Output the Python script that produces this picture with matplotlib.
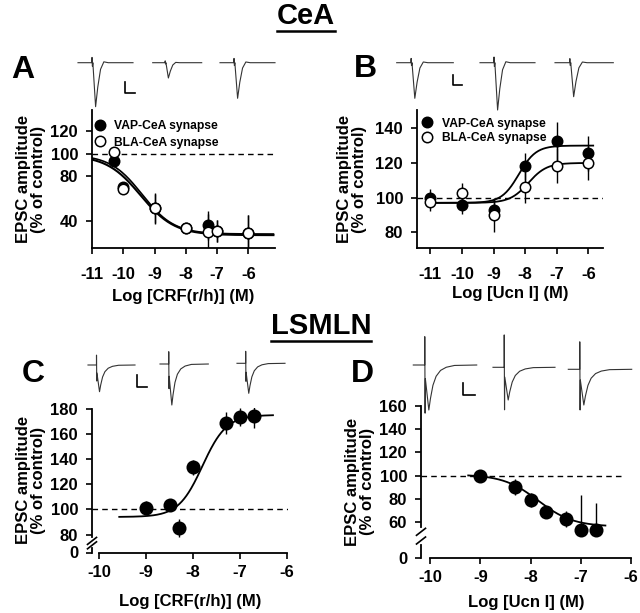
import numpy as np
import matplotlib
matplotlib.use('Agg')
import matplotlib.pyplot as plt
from matplotlib.lines import Line2D

plt.rcParams['font.family'] = ['Liberation Sans', 'DejaVu Sans']
plt.rcParams['font.weight'] = 'bold'
plt.rcParams['axes.unicode_minus'] = False

# ---- data ----
# A: CeA, CRF(r/h)
a_x = [-10.3, -10, -9, -8, -7.3, -7, -6]
a_vap = [93.5, 70.5, 51, 33, 36, 31, 29]
a_vap_err = [3, 3, 14, 3, 13, 10, 16]
a_bla = [101, 68, 51, 33, 30, 30.5, 29]
a_bla_err = [2, 3, 13, 3, 16, 10, 16]
# fits: value at low conc, value at high conc, logEC50, hill slope, x from, x to
a_fit_vap = [98.5, 27, -9.45, 0.8, -11, -5.2]
a_fit_bla = [99, 28, -9.4, 0.85, -11, -5.2]

# B: CeA, Ucn I
b_x = [-11, -10, -9, -8, -7, -6]
b_vap = [100, 95.5, 93, 118, 132.5, 125.5]
b_vap_err = [5, 5, 6, 8, 11, 10]
b_bla = [97.5, 102.5, 90, 106, 118.5, 120]
b_bla_err = [5, 6, 10, 9, 10, 10]
b_fit_vap = [97, 130, -8.2, 1.6, -11, -5.85]
b_fit_bla = [97, 120, -7.9, 1.5, -11, -5.9]

# C: LSMLN, CRF(r/h)
c_x = [-9, -8.5, -8.3, -8, -7.3, -7, -6.7]
c_y = [101.5, 103.5, 85.5, 133.5, 168.5, 173.5, 174.5]
c_err = [5, 5, 7, 6, 9, 7, 10]
c_fit = [94, 175, -7.8, 1.7, -9.57, -6.3]

# D: LSMLN, Ucn I
d_x = [-9, -8.3, -8, -7.7, -7.3, -7, -6.7]
d_y = [100, 90, 79, 69, 62.5, 53.5, 53.5]
d_err_lo = [2, 7, 6, 5, 7, 0, 0]
d_err_hi = [2, 7, 6, 5, 7, 30, 23]
d_fit = [101, 56, -7.85, 1.25, -9.24, -6.51]

legend_labels = ['VAP-CeA synapse', 'BLA-CeA synapse']

# example EPSC trace shapes (fraction of trace width, fraction of peak)
cea_t = [0, 0.25, 0.255, 0.262, 0.27, 0.32, 0.36, 0.41, 0.47, 0.55, 1.0]
cea_v = [0, 0, 0.12, -0.08, 0, -1.0, -0.55, -0.15, 0.02, 0, 0]
lsm_t = [0, 0.18, 0.181, 0.186, 0.19, 0.245, 0.27, 0.31, 0.36, 0.43, 0.52, 0.65, 1.0]
lsm_v = [0, 0, 'up', 'down', -0.3, -1.0, -0.75, -0.45, -0.25, -0.12, -0.05, -0.01, 0]

W, H = 640, 613
fig = plt.figure(figsize=(W / 100, H / 100), dpi=100)
YLAB = 'EPSC amplitude\n(% of control)'


def px_axes(left, top, right, bottom):
    return fig.add_axes([left / W, (H - bottom) / H, (right - left) / W, (bottom - top) / H])


def hill(p, n=200):
    lo, hi, ec, s, x0, x1 = p
    x = np.linspace(x0, x1, n)
    return x, hi + (lo - hi) / (1 + 10 ** ((x - ec) * s))


def style(ax, xpad):
    for s in ['top', 'right']:
        ax.spines[s].set_visible(False)
    for s in ['left', 'bottom']:
        ax.spines[s].set_linewidth(1.3)
    ax.tick_params(direction='out', length=4, width=1.2, labelsize=12)
    ax.tick_params(axis='x', pad=xpad)
    ax.tick_params(axis='y', pad=6)


def pts(ax, x, y, err, filled, ms=7.5, z=3):
    ax.errorbar(x, y, yerr=err, fmt='o', ms=ms, mfc='black' if filled else 'white',
                mec='black', mew=1.1, ecolor='black', elinewidth=1.0, capsize=0, zorder=z)


dash = (0, (4, 3))
lab = dict(fontsize=12, fontweight='bold')

# ---- A ----
ax = px_axes(92, 110, 275, 248)
style(ax, 9.5)
ax.set_xlim(-11, -5.15)
ax.set_ylim(15.5, 139)
ax.axhline(100, color='black', lw=1, ls=dash, zorder=1)
ax.plot(*hill(a_fit_vap), color='black', lw=1.5, zorder=2)
ax.plot(*hill(a_fit_bla), color='black', lw=1.2, zorder=2)
pts(ax, a_x, a_vap, a_vap_err, True)
pts(ax, a_x, a_bla, a_bla_err, False, z=4)
ax.set_xticks([-11, -10, -9, -8, -7, -6])
ax.set_yticks([40, 80, 100, 120])
ax.set_xlabel('Log [CRF(r/h)] (M)', labelpad=5, **lab)
ax.set_ylabel(YLAB, labelpad=3, linespacing=1.05, **lab)
hs = [Line2D([], [], marker='o', ls='none', ms=7.5, mfc=c, mec='black', mew=1.1) for c in ['black', 'white']]
ax.legend(hs, legend_labels, loc='upper left', bbox_to_anchor=(-0.01, 0.96), frameon=False,
          handlelength=0.8, handletextpad=0.8, labelspacing=0.35, borderaxespad=0,
          prop={'size': 8.7, 'weight': 'bold'})

# ---- B ----
ax = px_axes(417, 110, 603, 248)
style(ax, 9.5)
ax.set_xlim(-11.42, -5.54)
ax.set_ylim(71, 150.5)
ax.axhline(100, color='black', lw=1, ls=dash, zorder=1)
ax.plot(*hill(b_fit_vap), color='black', lw=1.3, zorder=2)
ax.plot(*hill(b_fit_bla), color='black', lw=1.3, zorder=2)
pts(ax, b_x, b_vap, b_vap_err, True)
pts(ax, b_x, b_bla, b_bla_err, False, z=4)
ax.set_xticks([-11, -10, -9, -8, -7, -6])
ax.set_yticks([80, 100, 120, 140])
ax.set_xlabel('Log [Ucn I] (M)', labelpad=3, **lab)
ax.set_ylabel(YLAB, labelpad=6, linespacing=1.05, **lab)
ax.legend(hs, legend_labels, loc='upper left', bbox_to_anchor=(0.0, 0.98), frameon=False,
          handlelength=0.8, handletextpad=0.9, labelspacing=0.2, borderaxespad=0,
          prop={'size': 8.7, 'weight': 'bold'})


def broken(ax, top, brk, lo, marks):
    ax.spines['left'].set_bounds(brk, top)
    ax.spines['bottom'].set_bounds(-10, -6)
    tr = ax.get_yaxis_transform()
    bb = ax.get_position()
    dx = 4.5 / (bb.width * W)
    yl = ax.get_ylim()
    dy = 3.5 * (yl[1] - yl[0]) / (bb.height * H)
    ax.plot([0, 0], [yl[0], lo], color='black', lw=1.3, transform=tr, clip_on=False)
    for m in marks:
        ax.plot([-dx, dx], [m - dy, m + dy], color='black', lw=1.2, transform=tr, clip_on=False)


# ---- C ----
ax = px_axes(92, 408, 288, 552.5)
style(ax, 5)
ax.set_xlim(-10.15, -5.98)
ax.set_ylim(65.8, 180.5)
ax.axhline(100, color='black', lw=1, ls=dash, zorder=1)
ax.plot(*hill(c_fit), color='black', lw=1.3, zorder=2)
pts(ax, c_x, c_y, c_err, True, ms=9)
ax.set_xticks([-10, -9, -8, -7, -6])
ax.set_yticks([65.8, 80, 100, 120, 140, 160, 180])
ax.set_yticklabels(['0', '80', '100', '120', '140', '160', '180'])
ax.set_xlabel('Log [CRF(r/h)] (M)', labelpad=10, **lab)
ax.set_ylabel(YLAB, labelpad=3, linespacing=1.05, **lab)
broken(ax, 180, 78.5, 69.5, [75, 71.5])

# ---- D ----
ax = px_axes(421, 405, 631, 558)
style(ax, 5)
ax.set_xlim(-10.18, -6.0)
ax.set_ylim(28.9, 161)
ax.axhline(100, color='black', lw=1, ls=dash, xmax=0.95, zorder=1)
ax.plot(*hill(d_fit), color='black', lw=1.3, zorder=2)
pts(ax, d_x, d_y, [d_err_lo, d_err_hi], True, ms=9)
ax.set_xticks([-10, -9, -8, -7, -6])
ax.set_yticks([28.9, 60, 80, 100, 120, 140, 160])
ax.set_yticklabels(['0', '60', '80', '100', '120', '140', '160'])
ax.set_xlabel('Log [Ucn I] (M)', labelpad=6.5, **lab)
ax.set_ylabel(YLAB, labelpad=3, linespacing=1.05, **lab)
broken(ax, 160, 55.7, 40, [51.5, 44])

# ---- overlay: titles, panel letters, traces, scale bars ----
ov = fig.add_axes([0, 0, 1, 1])
ov.set_xlim(0, W)
ov.set_ylim(H, 0)
ov.axis('off')
ov.patch.set_alpha(0)

titles = [('CeA', 306, 16), ('LSMLN', 321, 326)]
for txt, x, y in titles:
    ov.text(x, y, txt, fontsize=21, fontweight='bold', ha='center', va='center')
fig.canvas.draw()
for t in ov.texts:
    bb = t.get_window_extent().transformed(ov.transData.inverted())
    yb = max(bb.y0, bb.y1)
    ov.plot([bb.x0, bb.x1], [yb + 0.5, yb + 0.5], color='black', lw=1.8)

for txt, x, y in [('A', 23, 70), ('B', 365, 69), ('C', 33, 374), ('D', 362, 374)]:
    ov.text(x, y, txt, fontsize=23, fontweight='bold', ha='center', va='center')

# trace layout: x start, x end, baseline y, peak depth (pixels)
cea_traces = [(78, 133, 62.7, 44), (152.7, 201.7, 62.7, 15.3), (220, 275, 62.7, 35.6),
              (396.7, 453.3, 62.7, 35.6), (480, 535, 62.7, 47.3), (555, 613.3, 62.7, 34)]
lsm_traces = [(88, 135, 365, 26.7, 0.37, -0.6), (160, 208.3, 364, 41, 0.3, -0.6),
              (237, 285, 363.3, 30, 0.4, -0.6),
              (413.3, 476.7, 365, 45, 0.63, -1.07), (493, 555, 367.3, 32.7, 0.99, -1.3),
              (568.3, 631.7, 369.3, 35.7, 0.77, -1.14)]
for x0, x1, y0, d in cea_traces:
    xs = [x0 + t * (x1 - x0) for t in cea_t]
    ys = [y0 - v * d for v in cea_v]
    ov.plot(xs, ys, color='#333333', lw=0.8)
for x0, x1, y0, d, up, dn in lsm_traces:
    xs = [x0 + t * (x1 - x0) for t in lsm_t]
    vv = [up if v == 'up' else dn if v == 'down' else v for v in lsm_v]
    ys = [y0 - v * d for v in vv]
    ov.plot(xs, ys, color='#333333', lw=0.8)

scale_bars = [(125, 135, 81.7, 93.3), (453, 461.7, 75, 85), (137.3, 147.3, 375, 386.7), (463.3, 475, 383.3, 395)]
for x0, x1, ya, yb in scale_bars:
    ov.plot([x0, x0, x1], [ya, yb, yb], color='black', lw=1.2)

fig.savefig('out.png', dpi=100)
